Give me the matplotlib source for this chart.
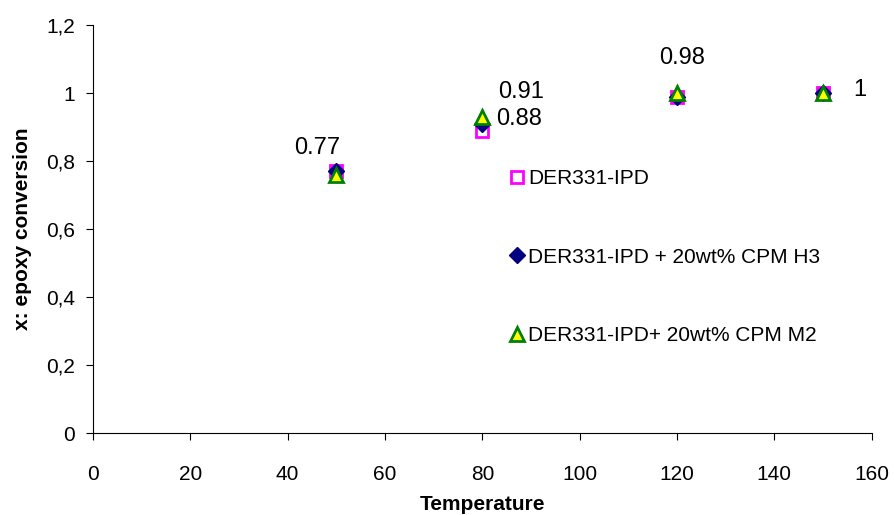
import matplotlib.pyplot as plt

plt.rcParams['font.family'] = ['Liberation Sans', 'DejaVu Sans']

temperature = [50, 80, 120, 150]
ipd = [0.77, 0.89, 0.99, 1.0]
ipd_h3 = [0.77, 0.91, 0.99, 1.0]
ipd_m2 = [0.76, 0.93, 1.0, 1.0]
point_labels = ['0.77', '0.91', '0.88', '0.98', '1']
label_pos = [(46, 0.84), (88, 1.005), (87.5, 0.925), (121, 1.105), (157.5, 1.01)]

fig = plt.figure(figsize=(8.94, 5.15), dpi=100)
ax = fig.add_axes([0.104, 0.159, 0.871, 0.792])

ax.plot(temperature, ipd, ls='none', marker='s', ms=9, mfc='white', mec='#ff00ff',
        mew=2, label='DER331-IPD')
ax.plot(temperature, ipd_h3, ls='none', marker='D', ms=8, color='#000080',
        label='DER331-IPD + 20wt% CPM H3')
ax.plot(temperature, ipd_m2, ls='none', marker='^', ms=10, mfc='yellow', mec='green',
        mew=2, label='DER331-IPD+ 20wt% CPM M2')

for txt, (x, y) in zip(point_labels, label_pos):
    ax.text(x, y, txt, fontsize=17, ha='center', va='center')

ax.set_xlim(0, 160)
ax.set_ylim(0, 1.2)
ax.set_xticks(range(0, 161, 20))
ax.set_yticks([0, 0.2, 0.4, 0.6, 0.8, 1.0, 1.2])
ax.set_yticklabels(['0', '0,2', '0,4', '0,6', '0,8', '1', '1,2'])
ax.tick_params(labelsize=15, length=5, width=0.8)
ax.tick_params(axis='x', pad=18)
ax.tick_params(axis='y', pad=8)
ax.spines['top'].set_visible(False)
ax.spines['right'].set_visible(False)
ax.set_xlabel('Temperature', fontsize=15, fontweight='bold', labelpad=8)
ax.set_ylabel('x: epoxy conversion', fontsize=15, fontweight='bold', labelpad=10)

ax.legend(loc='upper left', bbox_to_anchor=(0.507, 0.693), frameon=False, fontsize=15,
          handletextpad=0.05, labelspacing=2.85, handlelength=1)

fig.savefig('out.png', dpi=100)
